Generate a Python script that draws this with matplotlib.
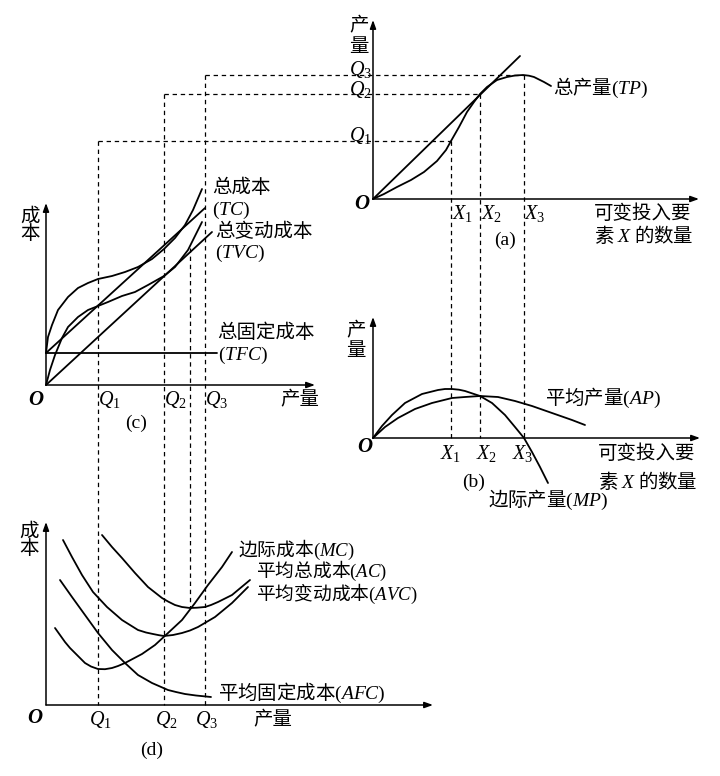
import matplotlib.pyplot as plt
import numpy as np
from matplotlib.transforms import Affine2D

plt.rcParams['font.family'] = ['Noto Sans CJK SC', 'DejaVu Sans']
plt.rcParams['mathtext.fontset'] = 'custom'
plt.rcParams['mathtext.rm'] = 'Liberation Serif'
plt.rcParams['mathtext.it'] = 'Liberation Serif:italic'

# ---- (a) total product: values, origin = 0 ----
tp_x = [0, 11, 24, 38, 51, 64, 73, 78, 86, 94, 101, 107, 114, 124, 134, 142, 150, 156, 161, 171, 178]
tp_y = [0, 5, 12, 19, 27, 38, 49, 58, 72, 87, 97, 105, 112, 119, 122, 123.5, 124, 123.3, 122, 117, 113]
ray_a_x = [0, 147]
ray_a_y = [0, 143]
x_marks = [78, 107, 150.5]      # X1, X2, X3
q_levels = [58, 105, 124]       # Q1, Q2, Q3 on the TP axis

# ---- (b) average and marginal product ----
ap_x = [0, 12, 25, 42, 59, 79, 92, 107, 125, 142, 159, 179, 199, 212]
ap_y = [0, 11, 20, 29, 35, 40, 41, 42, 41, 37, 32, 25, 18, 13]
mp_x = [0, 9, 19, 32, 49, 65, 72, 79, 86, 92, 107, 119, 132, 142, 151, 159, 167, 175]
mp_y = [0, 12, 23, 35, 44, 48, 49, 49, 48.3, 47, 42, 35, 23, 11, 0, -14, -29, -45]

# ---- (c) total costs ----
tc_x = [0, 2, 6, 12, 22, 32, 42, 52, 66, 79, 92, 106, 118, 129, 139, 147, 156]
tc_y = [32, 48, 60, 75, 88, 97, 102, 106, 109, 113, 118, 126, 136, 147, 160, 175, 196]
tvc_x = [0, 4, 9, 16, 22, 32, 42, 52, 62, 76, 89, 102, 118, 129, 142, 156]
tvc_y = [0, 15, 30, 47, 58, 68, 75, 79, 83, 89, 93, 100, 109, 118, 135, 163]
tfc_x = [0, 171]
tfc_y = [32, 32]
ray_tfc_x = [0, 159]
ray_tfc_y = [32, 177]
ray_o_x = [0, 166]
ray_o_y = [0, 153]
q_marks = [52, 118, 159]        # Q1, Q2, Q3 on the cost axes
q_ac = 144                      # output at minimum AC
tvc_at_qac = 137
ac_min = 97

# ---- (d) unit costs ----
mc_x = [9, 14, 19, 24, 29, 34, 39, 45, 52, 59, 66, 72, 79, 96, 109, 122, 136, 149, 162, 176, 186]
mc_y = [77, 70, 63, 57, 52, 47, 42, 38.5, 36, 35.8, 37, 39, 42, 51, 60, 72, 85, 102, 120, 138, 153]
ac_x = [56, 66, 76, 89, 102, 116, 122, 129, 136, 144, 151, 159, 165, 172, 186, 204]
ac_y = [170, 158, 147, 132, 118, 107, 103.5, 100, 98, 97, 97.3, 98, 100, 103, 110, 125]
avc_x = [17, 26, 36, 47, 61, 76, 92, 100, 107, 113, 118, 127, 136, 144, 152, 169, 186, 202]
avc_y = [165, 148, 130, 113, 98, 85, 75, 72.5, 71, 69.8, 69, 70, 72, 74.5, 78, 88, 102, 118]
afc_x = [14, 26, 39, 52, 66, 79, 92, 106, 122, 130, 139, 150, 165]
afc_y = [125, 108, 90, 72, 55, 42, 30, 22, 15, 13, 11, 9.5, 8]

# where each panel's origin sits on the page, and axis lengths
origins = {'a': (373, 199), 'b': (373, 438), 'c': (46, 385), 'd': (46, 705)}
axis_len = {'a': (326, 179), 'b': (327, 121), 'c': (269, 182), 'd': (387, 183)}
panel = {k: Affine2D().scale(1, -1).translate(*v) for k, v in origins.items()}


def pt(p, x, y):
    xy = panel[p].transform(np.column_stack([np.atleast_1d(x), np.atleast_1d(y)]))
    return xy[:, 0], xy[:, 1]


fig = plt.figure(figsize=(7.2, 7.76), dpi=100)
ax = fig.add_axes([0, 0, 1, 1])
ax.set_xlim(0, 720)
ax.set_ylim(776, 0)
ax.axis('off')


def curve(p, x, y):
    ax.plot(*pt(p, x, y), color='black', lw=1.3, solid_joinstyle='round',
            solid_capstyle='round')


def dash(x, y):
    ax.plot(x, y, color='black', lw=0.9, dashes=(3.5, 3))


def axes_arrows(p):
    ox, oy = pt(p, 0, 0)
    w, h = axis_len[p]
    for tip in [(w, 0), (0, h)]:
        tx, ty = pt(p, *tip)
        ax.annotate('', xy=(tx[0], ty[0]), xytext=(ox[0], oy[0]),
                    arrowprops=dict(arrowstyle='-|>,head_length=0.5,head_width=0.18',
                                    color='black', lw=1.1, shrinkA=0, shrinkB=0))


def label(p, x, y, s, ha='left', size=14, ls=1.2, **kw):
    px, py = pt(p, x, y)
    ax.text(px[0], py[0], s, ha=ha, va='center', fontsize=size,
            linespacing=ls, multialignment='left', **kw)


def oh(p, x, y):
    label(p, x, y, 'O', ha='center', size=15, family='Liberation Serif',
          style='italic', weight='bold')


def paren(p, x, y, s):
    label(p, x, y, s, ha='center', size=14, family='Liberation Serif')


for p in 'abcd':
    axes_arrows(p)

# dashed guide lines linking the four panels
for i in range(3):
    qx, _ = pt('c', q_marks[i], 0)
    xa, ya = pt('a', x_marks[i], q_levels[i])
    _, yd = pt('d', 0, 0)
    _, yb = pt('b', 0, 0)
    dash([qx[0], xa[0]], [ya[0], ya[0]])
    dash([qx[0], qx[0]], [ya[0], yd[0]])
    dash([xa[0], xa[0]], [ya[0], yb[0]])
_, y_top = pt('c', q_ac, tvc_at_qac)
x_ac, y_bot = pt('d', q_ac, ac_min)
dash([x_ac[0], x_ac[0]], [y_top[0], y_bot[0]])

# (a)
curve('a', tp_x, tp_y)
curve('a', ray_a_x, ray_a_y)
# (b)
curve('b', ap_x, ap_y)
curve('b', mp_x, mp_y)
# (c)
curve('c', tc_x, tc_y)
curve('c', tvc_x, tvc_y)
curve('c', tfc_x, tfc_y)
curve('c', ray_tfc_x, ray_tfc_y)
curve('c', ray_o_x, ray_o_y)
# (d)
curve('d', mc_x, mc_y)
curve('d', ac_x, ac_y)
curve('d', avc_x, avc_y)
curve('d', afc_x, afc_y)

# ---- texts ----
# (a)
label('a', -14, 163, '产\n量', ha='center', ls=0.94)
for i, q in enumerate(q_levels):
    label('a', -1, q + 5, '$Q_%d$' % (i + 1), ha='right', size=14.5)
oh('a', -11, -5)
for i, xm in enumerate(x_marks):
    label('a', xm + 1, -14, '$X_%d$' % (i + 1), size=14.5)
label('a', 221, -26, '可变投入要\n素 $X$ 的数量', ls=1.04)
paren('a', 132, -41, '(a)')
label('a', 180, 111, '总产量$(TP)$')

# (b)
label('b', -17, 97, '产\n量', ha='center', ls=0.91)
oh('b', -8, -9)
for i, xc in enumerate([78, 114, 149.5]):
    label('b', xc, -15, '$X_%d$' % (i + 1), ha='center', size=14.5)
label('b', 172, 40, '平均产量$(AP)$')
label('b', 225, -30, '可变投入要\n素 $X$ 的数量', ls=1.28)
paren('b', 101, -44, '(b)')
label('b', 115, -62, '边际产量$(MP)$')

# (c)
label('c', -16, 160, '成\n本', ha='center', ls=0.75)
oh('c', -10, -15)
for i, qm in enumerate(q_marks):
    label('c', qm, -15, '$Q_%d$' % (i + 1), size=14.5)
label('c', 234, -15, '产量')
paren('c', 90, -38, '(c)')
label('c', 166, 186, '总成本\n$(TC)$', ls=1.1)
label('c', 169, 142.5, '总变动成本\n$(TVC)$', ls=1.02)
label('c', 171.5, 41, '总固定成本\n$(TFC)$', ls=1.1)

# (d)
label('d', -17, 165, '成\n本', ha='center', ls=0.77)
oh('d', -11, -13)
for i, qc in enumerate([54, 120.5, 160.5]):
    label('d', qc, -15, '$Q_%d$' % (i + 1), ha='center', size=14.5)
label('d', 227, -15, '产量', ha='center')
paren('d', 106, -45, '(d)')
label('d', 192, 155.5, '边际成本$(MC)$', size=13.5)
label('d', 210, 122.5, '平均总成本$(AC)$\n平均变动成本$(AVC)$', size=13.5, ls=0.9)
label('d', 172, 12, '平均固定成本$(AFC)$')

fig.savefig('out.png', dpi=100, facecolor='white')
